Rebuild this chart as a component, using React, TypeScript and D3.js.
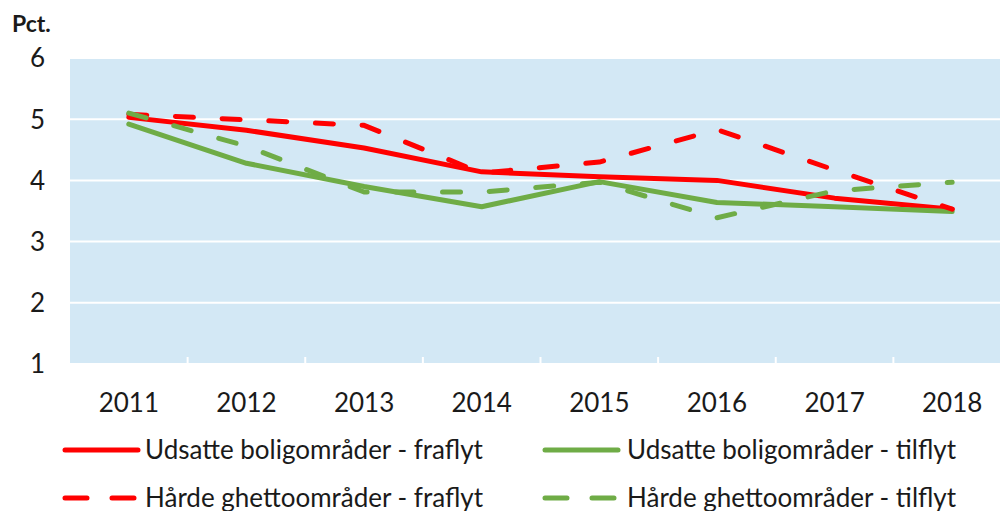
import React from "react";
import * as d3 from "d3";

const years = ["2011", "2012", "2013", "2014", "2015", "2016", "2017", "2018"];
const udsatteFraflyt = [5.03, 4.82, 4.53, 4.14, 4.06, 4.0, 3.71, 3.53];
const udsatteTilflyt = [4.92, 4.28, 3.9, 3.57, 3.98, 3.64, 3.57, 3.49];
const haardeFraflyt = [5.08, 4.99, 4.9, 4.12, 4.3, 4.83, 4.17, 3.53];
const haardeTilflyt = [5.1, 4.56, 3.81, 3.81, 3.97, 3.39, 3.83, 3.97];
const yTicks = [1, 2, 3, 4, 5, 6];

const RED = "#FF0000";
const GREEN = "#6FAC46";
const BG = "#D3E8F5";
const FONT = "Lato, 'Open Sans', sans-serif";
const TEXT = "#1a1a1a";

const series = [
  { name: "Udsatte boligområder - fraflyt", values: udsatteFraflyt, color: RED, dashed: false },
  { name: "Udsatte boligområder - tilflyt", values: udsatteTilflyt, color: GREEN, dashed: false },
  { name: "Hårde ghettoområder - fraflyt", values: haardeFraflyt, color: RED, dashed: true },
  { name: "Hårde ghettoområder - tilflyt", values: haardeTilflyt, color: GREEN, dashed: true },
];

export default function App() {
  const W = 1000, H = 511;
  const left = 70, right = 1011, top = 58, bottom = 364;
  const x = d3.scaleBand<string>().domain(years).range([left, right]).padding(0);
  const y = d3.scaleLinear().domain([1, 6]).range([bottom, top]);
  const cx = (d: string) => (x(d) as number) + x.bandwidth() / 2;
  const line = d3
    .line<number>()
    .x((_, i) => cx(years[i]))
    .y((v) => y(v));

  const legendPos = [
    { lx: 63, tx: 145, ly: 450 },
    { lx: 543, tx: 627, ly: 450 },
    { lx: 63, tx: 145, ly: 498 },
    { lx: 543, tx: 627, ly: 498 },
  ];

  return (
    <svg width={W} height={H} style={{ position: "absolute", left: 0, top: 0 }} fontFamily={FONT}>
      <rect x={left} y={top} width={right - left} height={bottom - top} fill={BG} />
      {yTicks.map((t) => (
        <line key={t} x1={left} x2={right} y1={y(t)} y2={y(t)} stroke="#fff" strokeWidth={2} />
      ))}
      {years.slice(1).map((yr) => (
        <line key={yr} x1={x(yr)} x2={x(yr)} y1={bottom - 7} y2={bottom} stroke="#fff" strokeWidth={2} />
      ))}
      {yTicks.map((t) => (
        <text key={t} x={45} y={y(t)} dy="0.36em" textAnchor="end" fontSize={26} fill={TEXT}>
          {t}
        </text>
      ))}
      <text x={12} y={32} fontSize={23} fontWeight="bold" fill={TEXT}>Pct.</text>
      {years.map((yr) => (
        <text key={yr} x={cx(yr)} y={412} textAnchor="middle" fontSize={26} fill={TEXT}>
          {yr}
        </text>
      ))}
      {series.map((s) => (
        <path
          key={s.name}
          d={line(s.values) || ""}
          fill="none"
          stroke={s.color}
          strokeWidth={5}
          strokeLinecap="round"
          strokeLinejoin="round"
          strokeDasharray={s.dashed ? "18 28.7" : undefined}
        />
      ))}
      {series.map((s, i) => {
        const p = legendPos[i];
        return (
          <g key={s.name}>
            <line
              x1={p.lx + 2}
              x2={p.lx + 75}
              y1={p.ly}
              y2={p.ly}
              stroke={s.color}
              strokeWidth={5}
              strokeLinecap="round"
              strokeDasharray={s.dashed ? "22 25" : undefined}
            />
            <text x={p.tx} y={p.ly} dy="0.36em" fontSize={26} fill={TEXT}>
              {s.name}
            </text>
          </g>
        );
      })}
    </svg>
  );
}
